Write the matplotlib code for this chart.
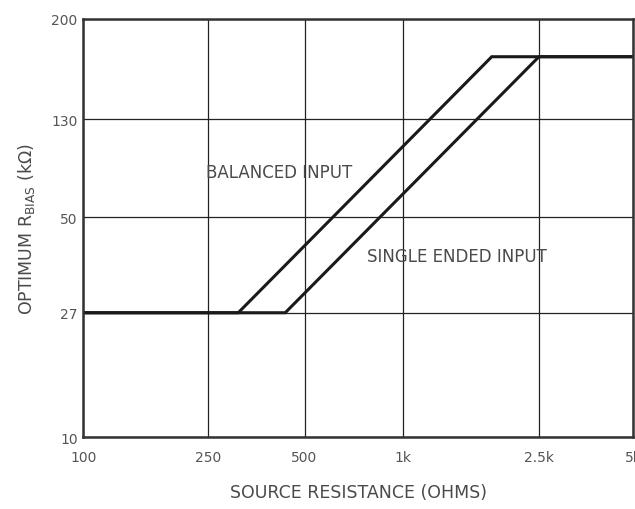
import numpy as np
import matplotlib
matplotlib.use("Agg")
import matplotlib.pyplot as plt

# tick values and their labels (axes are drawn on an uneven printed grid)
x_ticks = [100, 250, 500, 1000, 2500, 5000]
x_labels = ["100", "250", "500", "1k", "2.5k", "5k"]
y_ticks = [10, 27, 50, 130, 200]
y_labels = ["10", "27", "50", "130", "200"]

# grid line positions (relative units)
x_grid_pos = [0, 125, 221, 319, 455, 549]
y_grid_pos = [0, 124, 219, 317, 417]

# curves: source resistance (ohm) vs optimum R_bias (kohm)
bal_x = [100, 310, 1820, 5000]
bal_y = [27, 27, 170, 170]
se_x = [100, 435, 2500, 5000]
se_y = [27, 27, 170, 170]


def make_scale(ticks, pos):
    lt = np.log10(ticks)
    p = np.asarray(pos, float)
    # extend both ends linearly so the mapping stays invertible
    s0 = (p[1] - p[0]) / (lt[1] - lt[0])
    s1 = (p[-1] - p[-2]) / (lt[-1] - lt[-2])
    lt = np.concatenate([[lt[0] - 10], lt, [lt[-1] + 10]])
    p = np.concatenate([[p[0] - 10 * s0], p, [p[-1] + 10 * s1]])

    def fwd(v):
        v = np.asarray(v, float)
        return np.interp(np.log10(np.clip(v, 1e-12, None)), lt, p)

    def inv(q):
        return 10 ** np.interp(np.asarray(q, float), p, lt)
    return fwd, inv


fig = plt.figure(figsize=(6.35, 5.1), dpi=100)
ax = fig.add_axes([0.131, 0.141, 0.866, 0.82])

ax.set_xscale("function", functions=make_scale(x_ticks, x_grid_pos))
ax.set_yscale("function", functions=make_scale(y_ticks, y_grid_pos))
ax.set_xlim(x_ticks[0], x_ticks[-1])
ax.set_ylim(y_ticks[0], y_ticks[-1])

ax.plot(bal_x, bal_y, color="#1a1a1a", lw=2.2, solid_joinstyle="miter")
ax.plot(se_x, se_y, color="#1a1a1a", lw=2.2, solid_joinstyle="miter")

ax.set_xticks(x_ticks)
ax.set_xticklabels(x_labels)
ax.set_yticks(y_ticks)
ax.set_yticklabels(y_labels)
ax.minorticks_off()
ax.tick_params(axis="x", length=0, pad=9, labelsize=10, colors="#555555")
ax.tick_params(axis="y", length=0, pad=4, labelsize=10, colors="#555555")
ax.grid(True, color="#222222", lw=0.9)
for sp in ax.spines.values():
    sp.set_linewidth(1.8)
    sp.set_color("#333333")

ax.text(245, 78, "BALANCED INPUT", fontsize=12, color="#4a4a4a", va="center")
ax.text(776, 39, "SINGLE ENDED INPUT", fontsize=12, color="#4a4a4a", va="center")

ax.set_xlabel("SOURCE RESISTANCE (OHMS)", fontsize=12.5, color="#4a4a4a", labelpad=14)
ax.set_ylabel(r"OPTIMUM R$_{\rm BIAS}$ (k$\Omega$)", fontsize=12.5, color="#4a4a4a", labelpad=10)

fig.savefig("out.png", dpi=100)
